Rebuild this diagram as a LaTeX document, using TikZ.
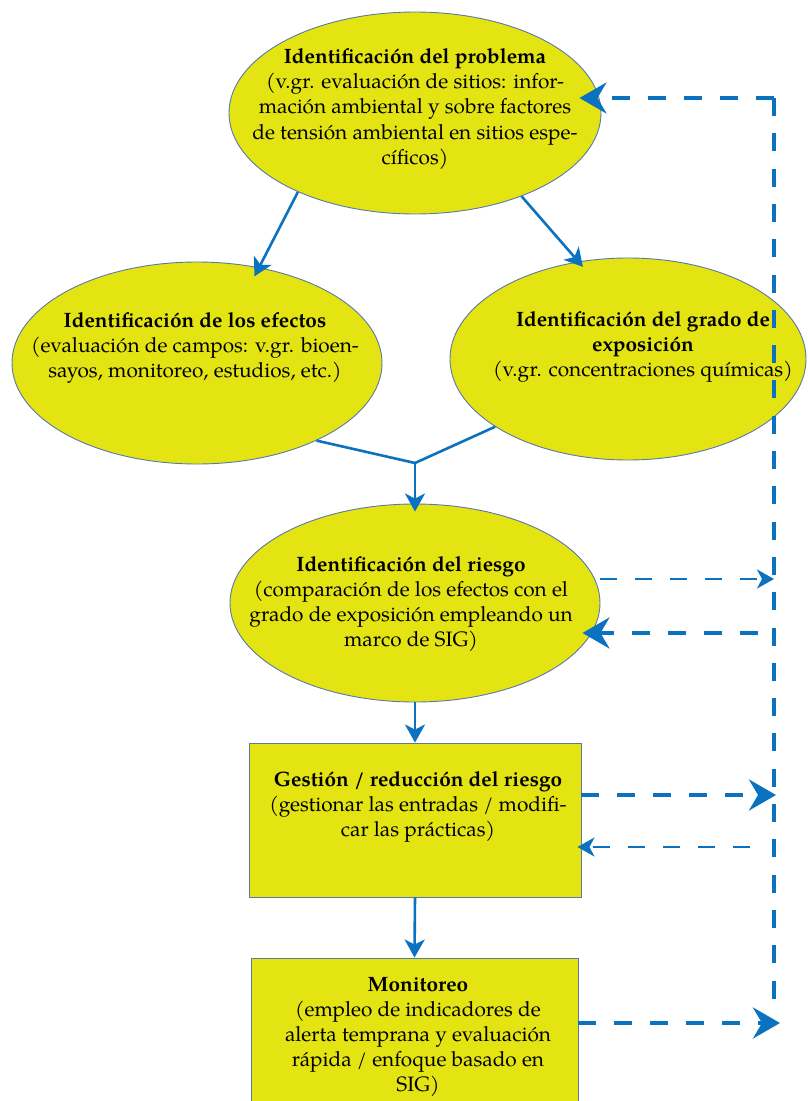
\documentclass[tikz,border=0pt]{standalone}
\usepackage{fontspec}
\setmainfont{texgyrepagella-regular.otf}[BoldFont=texgyrepagella-bold.otf]
\usetikzlibrary{arrows.meta,shapes.geometric}
\definecolor{fillY}{RGB}{228,228,18}
\definecolor{edgeB}{RGB}{90,120,170}
\definecolor{arrB}{RGB}{10,114,190}
\tikzset{
  oval/.style={ellipse, draw=edgeB, line width=0.9pt, fill=fillY, inner sep=0pt},
  boxy/.style={rectangle, draw=edgeB, line width=0.9pt, fill=fillY, inner sep=0pt},
  txt/.style={align=center, font=\fontsize{20.8}{25.2}\selectfont, inner sep=0pt},
  flow/.style={draw=arrB, line width=2.6pt, -{Stealth[length=18pt,width=20pt,inset=5pt]}},
  link/.style={draw=arrB, line width=2.6pt},
  bigdash/.style={draw=arrB, line width=4pt, dash pattern=on 18pt off 18pt},
  thindash/.style={draw=arrB, line width=2.5pt, dash pattern=on 17pt off 18pt},
  bigtip/.style={-{Stealth[length=27pt,width=31pt,inset=9pt]}},
  smalltip/.style={-{Stealth[length=17pt,width=19pt,inset=5pt]}},
}
\begin{document}
\begin{tikzpicture}[x=1pt,y=1pt]
\useasboundingbox (0,0) rectangle (807,-1101);
\fill[white] (0,0) rectangle (807,-1101);

% shapes
\node[oval, minimum width=372pt, minimum height=202pt] (prob) at (415,-113) {};
\node[oval, minimum width=370pt, minimum height=202pt] (efec) at (197,-363) {};
\node[oval, minimum width=356pt, minimum height=202pt] (expo) at (628,-359) {};
\node[oval, minimum width=370pt, minimum height=198pt] (ries) at (415,-603) {};
\node[boxy, minimum width=332pt, minimum height=154pt] (gest) at (415,-820) {};
\node[boxy, minimum width=327pt, minimum height=170pt] (moni) at (414.5,-1043) {};

% texts
\node[txt] (probT) at (415,-109) {\textbf{Identificación del problema}\\(v.gr. evaluación de sitios: infor-\\mación ambiental y sobre factores\\de tensión ambiental en sitios espe-\\cíficos)};
\node[txt] (efecT) at (195,-348) {\textbf{Identificación de los efectos}\\(evaluación de campos: v.gr. bioen-\\sayos, monitoreo, estudios, etc.)};
\node[txt] (expoT) at (643,-347) {\textbf{Identificación del grado de}\\\textbf{exposición}\\(v.gr. concentraciones químicas)};
\node[txt] (riesT) at (411,-604) {\textbf{Identificación del riesgo}\\(comparación de los efectos con el\\grado de exposición empleando un\\marco de SIG)};
\node[txt] (gestT) at (418,-807) {\textbf{Gestión / reducción del riesgo}\\(gestionar las entradas / modifi-\\car las prácticas)};
\node[txt] (moniT) at (418,-1037) {\textbf{Monitoreo}\\(empleo de indicadores de\\alerta temprana y evaluación\\rápida / enfoque basado en\\SIG)};

% solid flow
\draw[flow, shorten >=-10pt] (prob.214) -- (efec.57);
\draw[flow, shorten >=-7pt] (prob.322) -- (expo.117);
\coordinate (jn) at (415,-463);
\draw[link] (efec.-33) -- (jn) -- (expo.207);
\draw[flow, shorten >=-8pt] (jn) -- (ries.north);
\draw[flow] (ries.south) -- (gest.north);
\draw[flow] (gest.south) -- (moni.north);

% feedback loop
\coordinate (tc) at (774,-98);
\coordinate (bc) at (774,-999);
\draw[bigdash, dash pattern=on 18pt off 17.3pt] (tc) -- (bc);
\draw[bigdash, bigtip, shorten >=-22pt] (tc) -- (tc -| prob.east);

\coordinate (r1) at (774,-579);
\coordinate (r2) at (758,-633);
\draw[thindash, smalltip] (ries.east |- r1) -- (r1);
\draw[bigdash, bigtip, shorten >=-18pt] (r2) -- (ries.east |- r2);

\coordinate (g1) at (776,-795);
\coordinate (g2) at (750,-847);
\draw[bigdash, bigtip] (gest.east |- g1) -- (g1);
\draw[thindash, smalltip, shorten >=-4pt] (g2) -- (gest.east |- g2);

\coordinate (m1) at (780,-1023);
\draw[bigdash, bigtip] (moni.east |- m1) -- (m1);
\end{tikzpicture}
\end{document}
